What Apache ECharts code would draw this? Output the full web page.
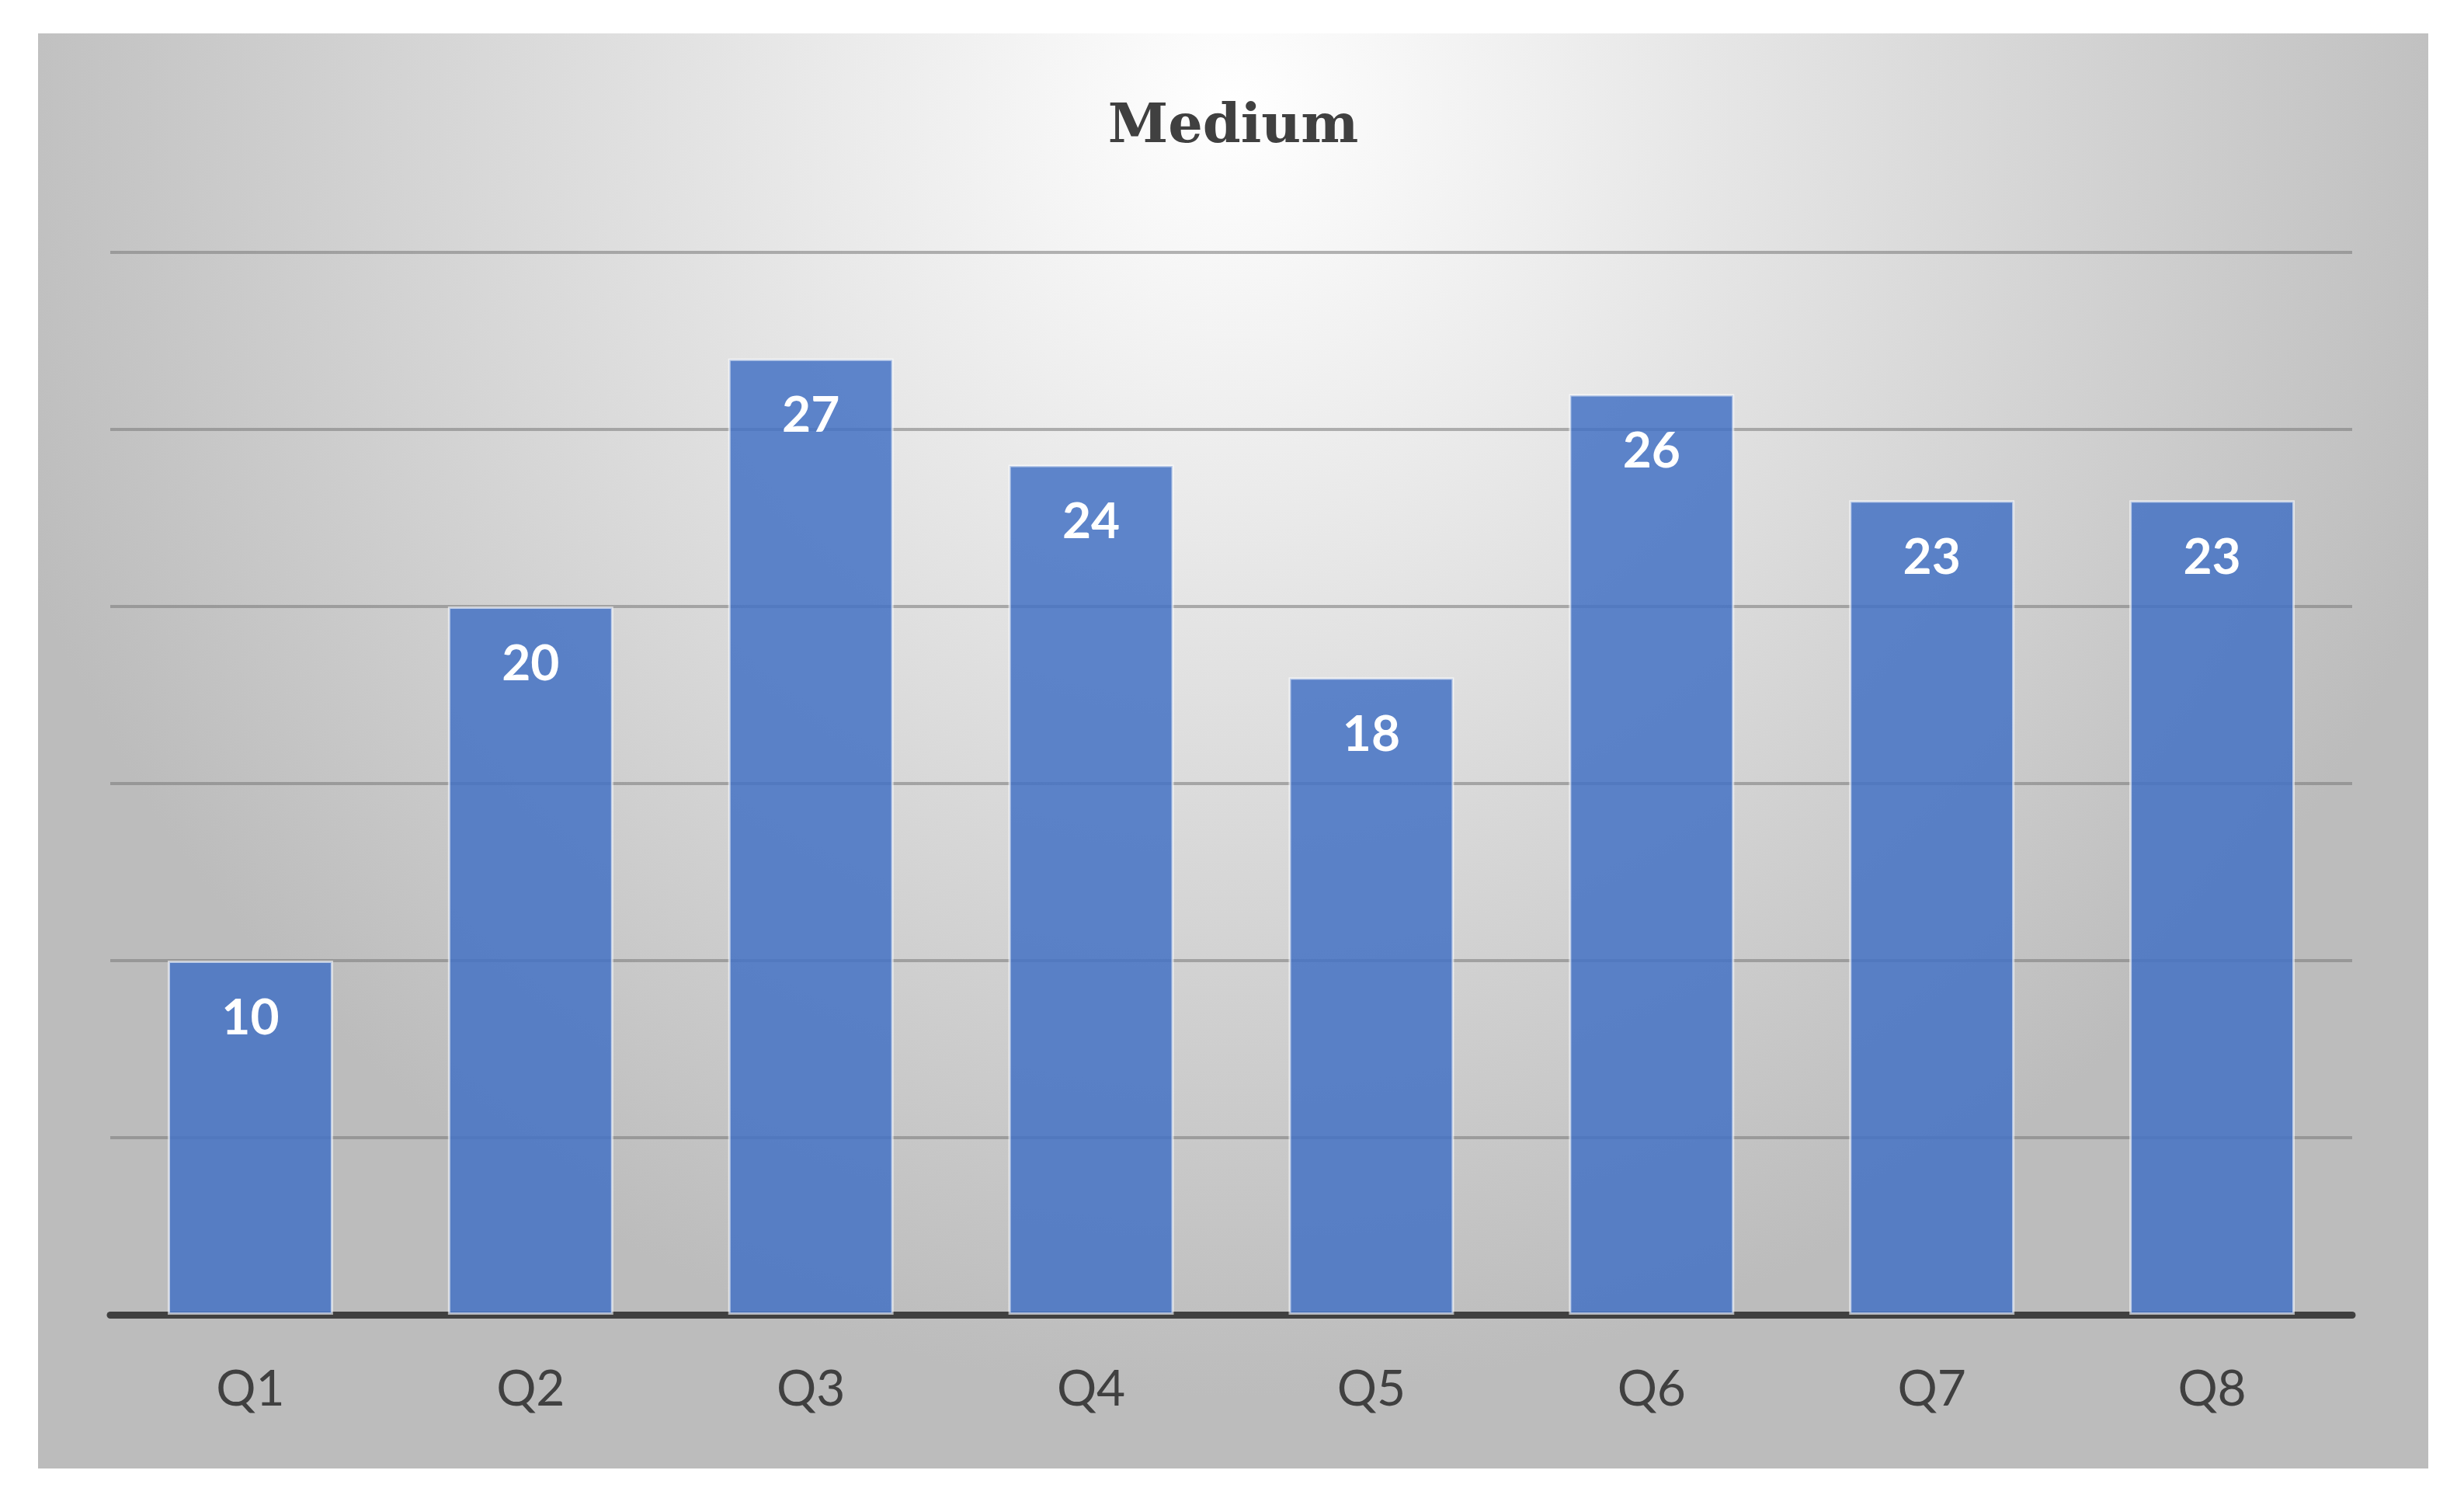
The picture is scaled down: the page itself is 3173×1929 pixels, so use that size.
<!DOCTYPE html>
<html>
<head>
<meta charset="utf-8">
<script src="https://cdn.jsdelivr.net/npm/echarts@6/dist/echarts.min.js"></script>
<style>
  html, body { margin: 0; padding: 0; background: #fff; }
  #chart { position: absolute; left: 49px; top: 43px; width: 3078px; height: 1848px; }
</style>
</head>
<body>
<div id="chart"></div>
<script>
const categories = ['Q1', 'Q2', 'Q3', 'Q4', 'Q5', 'Q6', 'Q7', 'Q8']
const values = [10, 20, 27, 24, 18, 26, 23, 23]

const myChart = echarts.init(document.getElementById('chart'))

const option = {
	backgroundColor: {
		type: 'radial', x: 0.5, y: 0.05, r: 0.9,
		colorStops: [
			{ offset: 0, color: '#ffffff' },
			{ offset: 1, color: '#bcbcbc' },
		],
	},
	title: {
		text: 'Medium',
		left: 'center',
		top: 82,
		textStyle: { fontFamily: 'DejaVu Serif', fontWeight: 'bold', fontSize: 70, color: '#404040' },
	},
	grid: { left: 93, right: 98, top: 282, bottom: 198 },
	xAxis: {
		type: 'category',
		data: categories,
		axisLine: { lineStyle: { color: '#404040', width: 9 } },
		axisTick: { show: false },
		axisLabel: { margin: 64, fontFamily: 'Lato', fontSize: 64, color: '#404040' },
	},
	yAxis: {
		type: 'value',
		min: 0,
		max: 30,
		interval: 5,
		axisLabel: { show: false },
		splitLine: { lineStyle: { color: 'rgba(120,120,120,0.55)', width: 4 } },
	},
	series: [
		{
			type: 'bar',
			data: values,
			barCategoryGap: '41%',
			itemStyle: {
				color: 'rgba(68,114,196,0.85)',
				borderColor: 'rgba(255,255,255,0.6)',
				borderWidth: 3,
			},
			label: {
				show: true,
				position: 'insideTop',
				distance: 42,
				fontFamily: 'Lato',
				fontWeight: 'bold',
				fontSize: 64,
				color: '#ffffff',
			},
		},
	],
}

myChart.setOption(option)
</script>
</body>
</html>
